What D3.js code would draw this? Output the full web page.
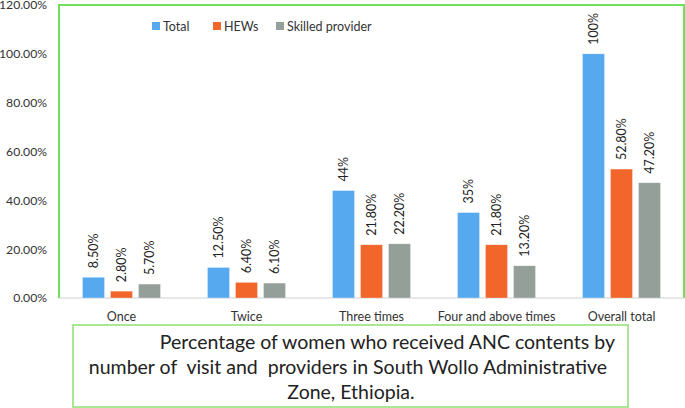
<!DOCTYPE html>
<html><head><meta charset="utf-8">
<script src="https://cdn.jsdelivr.net/npm/d3@7"></script>
<style>html,body{margin:0;padding:0;background:#fff;}svg{display:block;font-family:Lato,"Open Sans",sans-serif;}</style>
</head><body>
<svg id="c" width="685" height="408"></svg>
<script>
const categories = ["Once","Twice","Three times","Four and above times","Overall total"];
const seriesNames = ["Total","HEWs","Skilled provider"];
const totalValues = [8.5, 12.5, 44, 35, 100];
const hewValues = [2.8, 6.4, 21.8, 21.8, 52.8];
const skilledValues = [5.7, 6.1, 22.2, 13.2, 47.2];
const totalLabels = ["8.50%","12.50%","44%","35%","100%"];
const hewLabels = ["2.80%","6.40%","21.80%","21.80%","52.80%"];
const skilledLabels = ["5.70%","6.10%","22.20%","13.20%","47.20%"];
const yTicks = [0,20,40,60,80,100,120];
const yTickLabels = ["0.00%","20.00%","40.00%","60.00%","80.00%","100.00%","120.00%"];
const captionLines = ["Percentage of women who received ANC contents by","number of  visit and  providers in South Wollo Administrative","Zone, Ethiopia."];
const colors = ["#56a8ef","#f2652b","#949f99"];

const svg = d3.select("#c");
const x0 = d3.scaleBand().domain(categories).range([59,684]).paddingInner(0).paddingOuter(0);
const x1 = d3.scaleBand().domain(seriesNames).range([-39,39]).paddingInner(6/28).paddingOuter(0);
const y = d3.scaleLinear().domain([0,120]).range([298,5]);
const color = d3.scaleOrdinal().domain(seriesNames).range(colors);

// frame
svg.append("path").attr("d", `M${x0.range()[0]},${y(0)}V${y(120)}H${x0.range()[1]}V${y(0)}`)
  .attr("fill","none").attr("stroke","#6ee05a").attr("stroke-width",2);

// y axis labels
const yAxis = d3.axisLeft(y).tickValues(yTicks).tickSize(0).tickPadding(12)
  .tickFormat((d,i)=>yTickLabels[i]);
const ya = svg.append("g").attr("transform","translate(59,0)").call(yAxis);
ya.select(".domain").remove();
ya.selectAll("text").attr("font-size",12.2).attr("fill","#333").attr("font-family","Lato,'Open Sans',sans-serif");

// x axis line
svg.append("line").attr("x1",59).attr("x2",684).attr("y1",y(0)).attr("y2",y(0))
  .attr("stroke","#cfcfcf").attr("stroke-width",1.2);

// bars
const seriesVals = [totalValues, hewValues, skilledValues];
const seriesLabs = [totalLabels, hewLabels, skilledLabels];
const rows = [];
categories.forEach((c,ci)=>seriesNames.forEach((s,si)=>rows.push({c,s,v:seriesVals[si][ci],l:seriesLabs[si][ci]})));
const cx = d => x0(d.c) + x0.bandwidth()/2 + x1(d.s);
svg.append("g").selectAll("rect").data(rows).join("rect")
  .attr("x", cx).attr("width", x1.bandwidth())
  .attr("y", d=>y(d.v)).attr("height", d=>y(0)-y(d.v))
  .attr("fill", d=>color(d.s)).attr("stroke","#ffffff").attr("stroke-opacity",0.5).attr("stroke-width",0.6);

// value labels
svg.append("g").selectAll("text").data(rows).join("text")
  .attr("transform", d=>`translate(${cx(d)+x1.bandwidth()/2+4.5},${y(d.v)-9}) rotate(-90)`)
  .attr("font-size",12.5).attr("fill","#222").attr("text-anchor","start")
  .text(d=>d.l);

// category labels
svg.append("g").selectAll("text").data(categories).join("text")
  .attr("x", d=>x0(d)+x0.bandwidth()/2).attr("y",321)
  .attr("text-anchor","middle").attr("font-size",12.5).attr("fill","#333").text(d=>d);

// legend
const lg = svg.append("g");
const legX = [152, 213, 276];
seriesNames.forEach((s,i)=>{
  lg.append("rect").attr("x",legX[i]).attr("y",22).attr("width",8).attr("height",8).attr("fill",color(s));
  lg.append("text").attr("x",legX[i]+11).attr("y",30.5).attr("font-size",12.5).attr("fill","#333").text(s);
});

// caption
svg.append("rect").attr("x",73).attr("y",325).attr("width",555).attr("height",82)
  .attr("fill","none").attr("stroke","#8ee070").attr("stroke-width",1.5);
const capX = [615, 348, 351];
const capAnchor = ["end","middle","middle"];
const capY = [349, 374, 399];
captionLines.forEach((t,i)=>{
  svg.append("text").attr("x",capX[i]).attr("y",capY[i]).attr("text-anchor",capAnchor[i])
    .style("white-space","pre")
    .attr("font-size",19.5).attr("fill","#222").text(t);
});
</script>
</body></html>
